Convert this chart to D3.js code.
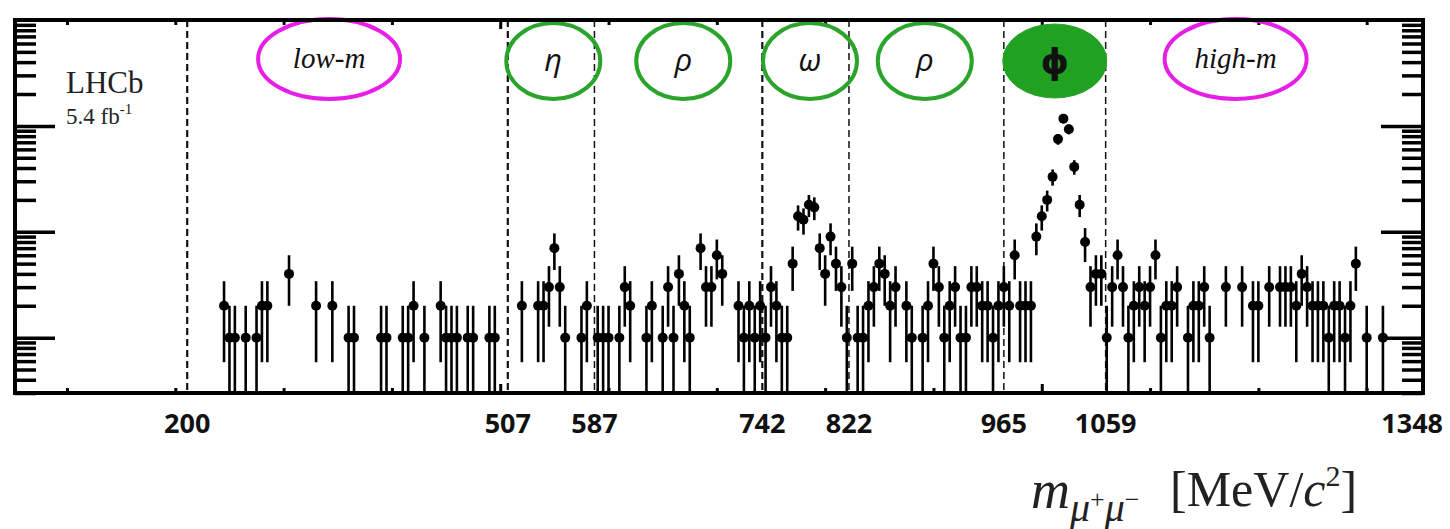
<!DOCTYPE html>
<html>
<head>
<meta charset="utf-8">
<script src="https://cdn.jsdelivr.net/npm/d3@7"></script>
<style>
  body { margin: 0; background: #fff; }
  svg { display: block; }
</style>
</head>
<body>
<div id="chart"></div>
<script>
// bin centres [MeV] and event counts
const massBins = [
  245, 250, 255, 265, 275, 280, 285, 305, 330, 345, 360, 365, 390, 395, 410, 415, 420, 430,
  445, 450, 455, 460, 470, 475, 490, 495,
  520, 535, 540, 545, 550, 555, 560, 575, 580,
  590, 595, 600, 610, 615, 620, 635, 640, 650, 655, 660, 665, 670, 675, 685, 690, 695, 700,
  705, 720, 725, 730, 735, 740,
  745, 750, 755, 760, 765, 770, 775, 780, 785, 790, 795, 800, 805, 810, 815, 820,
  825, 830, 835, 840, 845, 850, 855, 860, 865, 875, 880, 890, 895, 900, 905, 910, 915, 920,
  925, 930, 935, 940, 945, 950, 955, 960,
  965, 970, 975, 980, 985, 990, 995, 1000, 1005, 1010, 1015, 1020, 1025, 1030, 1035, 1040,
  1045, 1050, 1055,
  1060, 1065, 1070, 1075, 1080, 1085, 1090, 1095, 1100, 1105, 1110, 1115, 1120, 1125, 1135,
  1140, 1145, 1150, 1155, 1170, 1185, 1195, 1200, 1210, 1220, 1225, 1230, 1235, 1240, 1245,
  1250, 1255, 1260, 1265, 1270, 1275, 1280, 1285, 1290, 1300, 1315
];
const eventCounts = [
  2, 1, 1, 1, 1, 2, 2, 4, 2, 2, 1, 1, 1, 1, 1, 1, 2, 1,
  2, 1, 1, 1, 1, 1, 1, 1,
  2, 2, 2, 3, 7, 3, 1, 1, 2,
  1, 1, 1, 1, 3, 2, 1, 2, 1, 3, 1, 4, 2, 1, 7, 3, 3, 6,
  4, 2, 1, 2, 1, 2,
  1, 3, 2, 1, 1, 5, 14, 13, 18, 17, 7, 4, 9, 5, 3, 1,
  5, 1, 1, 2, 3, 5, 4, 2, 3, 2, 1, 1, 2, 5, 3, 1, 2, 3,
  1, 1, 3, 3, 2, 2, 1, 2,
  3, 2, 6, 2, 2, 2, 9, 14, 20, 33, 75, 117, 93, 41, 18, 8,
  3, 4, 4,
  1, 3, 6, 3, 1, 2, 3, 2, 3, 6, 1, 2, 2, 3, 1,
  2, 2, 3, 1, 3, 3, 2, 2, 3, 3, 3, 3, 2, 4, 3,
  2, 2, 2, 1, 2, 2, 1, 2, 5, 1, 1
];

// region boundaries and the numbers printed under them
const dividerMasses = [211, 507, 587, 742, 822, 965, 1059];
const boundaryLabels = ['200', '507', '587', '742', '822', '965', '1059', '1348'];
const boundaryLabelMasses = [211, 507, 587, 742, 822, 965, 1059, 1342];

// region tags along the top
const regionNames = ['low-m', 'η', 'ρ', 'ω', 'ρ', 'ϕ', 'high-m'];
const regionCentres = [342, 549, 669, 786, 892, 1012, 1179];
const regionKinds = ['range', 'res', 'res', 'res', 'res', 'peak', 'range'];

const W = 1450, H = 529;
const svg = d3.select('#chart').append('svg')
  .attr('width', W).attr('height', H)
  .style('font-family', '"Liberation Serif", serif');

const plot = { left: 15, right: 1423, top: 20, bottom: 393 };

const x = d3.scaleLinear().domain([52, 1352]).range([plot.left, plot.right]);
const y = d3.scaleLog().domain([0.3, 1000]).range([plot.bottom, plot.top]);

svg.append('defs').append('clipPath').attr('id', 'clip')
  .append('rect')
  .attr('x', plot.left).attr('y', plot.top)
  .attr('width', plot.right - plot.left).attr('height', plot.bottom - plot.top);

// y ticks (log, decades + sub-decades)
const majorY = [1, 10, 100];
const minorY = [];
[0.1, 1, 10, 100].forEach(d => {
  for (let k = 2; k <= 9; k++) {
    const v = k * d;
    if (v > 0.3 && v < 1000) minorY.push(v);
  }
});

function styleTicks(g) {
  g.select('.domain').remove();
  g.selectAll('.tick line').attr('stroke', '#000').attr('stroke-width', 3.5);
  g.selectAll('.tick text').remove();
}

svg.append('g').attr('transform', `translate(${plot.left},0)`)
  .call(d3.axisRight(y).tickValues(majorY).tickSize(40)).call(styleTicks);
svg.append('g').attr('transform', `translate(${plot.left},0)`)
  .call(d3.axisRight(y).tickValues(minorY).tickSize(21)).call(styleTicks);
svg.append('g').attr('transform', `translate(${plot.right},0)`)
  .call(d3.axisLeft(y).tickValues(majorY).tickSize(42)).call(styleTicks);
svg.append('g').attr('transform', `translate(${plot.right},0)`)
  .call(d3.axisLeft(y).tickValues(minorY).tickSize(21)).call(styleTicks);

// x ticks (inward, every 100 MeV)
const xMinor = d3.range(100, 1351, 100).filter(v => v % 500 !== 0);
const xMajor = [500, 1000];
function styleX(g) {
  g.select('.domain').remove();
  g.selectAll('.tick line').attr('stroke', '#000').attr('stroke-width', 3);
  g.selectAll('.tick text').remove();
}
svg.append('g').attr('transform', `translate(0,${plot.bottom})`)
  .call(d3.axisTop(x).tickValues(xMinor).tickSize(5)).call(styleX);
svg.append('g').attr('transform', `translate(0,${plot.bottom})`)
  .call(d3.axisTop(x).tickValues(xMajor).tickSize(9)).call(styleX);
svg.append('g').attr('transform', `translate(0,${plot.top})`)
  .call(d3.axisBottom(x).tickValues(xMinor).tickSize(5)).call(styleX);
svg.append('g').attr('transform', `translate(0,${plot.top})`)
  .call(d3.axisBottom(x).tickValues(xMajor).tickSize(9)).call(styleX);

// region dividers
svg.append('g').selectAll('line').data(dividerMasses).enter().append('line')
  .attr('x1', d => x(d)).attr('x2', d => x(d))
  .attr('y1', plot.top).attr('y2', plot.bottom)
  .attr('stroke', '#111')
  .attr('stroke-width', (d, i) => (i === 0 || i === 1 || i === 3) ? 2.2 : 1.5)
  .attr('stroke-dasharray', '7,4');

// data with Poisson errors
const points = massBins.map((m, i) => ({ m, n: eventCounts[i] }));
const data = svg.append('g').attr('clip-path', 'url(#clip)');

data.selectAll('.err').data(points).enter().append('line')
  .attr('class', 'err')
  .attr('x1', d => x(d.m)).attr('x2', d => x(d.m))
  .attr('y1', d => y(Math.max(d.n - Math.sqrt(d.n), 0.3)))
  .attr('y2', d => y(d.n + Math.sqrt(d.n)))
  .attr('stroke', '#000').attr('stroke-width', 2.6);

data.selectAll('.pt').data(points).enter().append('circle')
  .attr('class', 'pt')
  .attr('cx', d => x(d.m)).attr('cy', d => y(d.n))
  .attr('r', 5).attr('fill', '#000');

// region tags
const tags = svg.append('g');
regionNames.forEach((name, i) => {
  const kind = regionKinds[i];
  const cx = x(regionCentres[i]);
  const cy = kind === 'range' ? 59 : 61;
  const rx = kind === 'range' ? 71 : kind === 'peak' ? 52 : 47;
  const ry = kind === 'range' ? 40 : kind === 'peak' ? 37 : 38;
  tags.append('ellipse')
    .attr('cx', cx).attr('cy', cy).attr('rx', rx).attr('ry', ry)
    .attr('fill', kind === 'peak' ? '#21a121' : '#fff')
    .attr('fill-opacity', kind === 'peak' ? 1 : 0)
    .attr('stroke', kind === 'range' ? '#e61ee6' : '#2ba42b')
    .attr('stroke-width', kind === 'peak' ? 1 : 4);
  const t = tags.append('text')
    .attr('x', cx).attr('y', cy + 9)
    .attr('text-anchor', 'middle')
    .attr('fill', '#111')
    .text(name);
  if (kind === 'range') {
    t.style('font-family', '"Liberation Serif", serif').style('font-style', 'italic')
      .style('font-size', '29px');
  } else if (kind === 'peak') {
    t.attr('y', cy + 13)
      .style('font-family', '"DejaVu Sans", sans-serif').style('font-weight', 'bold')
      .style('font-size', '36px');
  } else {
    t.attr('y', cy + 10)
      .style('font-family', '"Open Sans", sans-serif').style('font-style', 'italic')
      .style('font-size', '31px');
  }
});

// frame
svg.append('rect')
  .attr('x', plot.left).attr('y', plot.top)
  .attr('width', plot.right - plot.left).attr('height', plot.bottom - plot.top)
  .attr('fill', 'none').attr('stroke', '#000').attr('stroke-width', 4);

// experiment label
svg.append('text').attr('x', 66).attr('y', 93)
  .style('font-size', '31px').attr('fill', '#222').text('LHCb');
const lumi = svg.append('text').attr('x', 66).attr('y', 124)
  .style('font-size', '23px').attr('fill', '#222');
lumi.append('tspan').text('5.4 fb');
lumi.append('tspan').attr('dy', -10).style('font-size', '15px').text('-1');

// boundary numbers
svg.append('g').selectAll('text').data(boundaryLabels).enter().append('text')
  .attr('x', (d, i) => x(boundaryLabelMasses[i]))
  .attr('y', 433)
  .attr('text-anchor', 'middle')
  .style('font-family', '"Open Sans", sans-serif')
  .style('font-weight', 700)
  .style('font-size', '27px')
  .attr('fill', '#111')
  .text(d => d);

// axis title
const title = svg.append('text').attr('x', 1031).attr('y', 508).attr('fill', '#222');
title.append('tspan').style('font-style', 'italic').style('font-size', '54px').text('m');
title.append('tspan').attr('dy', 13).style('font-style', 'italic').style('font-size', '40px').text('μ');
title.append('tspan').attr('dy', -13).style('font-size', '26px').text('+');
title.append('tspan').attr('dy', 13).style('font-style', 'italic').style('font-size', '40px').text('μ');
title.append('tspan').attr('dy', -13).style('font-size', '26px').text('−');
title.append('tspan').attr('x', 1170).attr('dy', -2).style('font-size', '50px').text('[MeV/');
title.append('tspan').style('font-style', 'italic').style('font-size', '50px').text('c');
title.append('tspan').attr('dy', -20).style('font-size', '30px').text('2');
title.append('tspan').attr('dy', 20).style('font-size', '50px').text(']');
</script>
</body>
</html>
